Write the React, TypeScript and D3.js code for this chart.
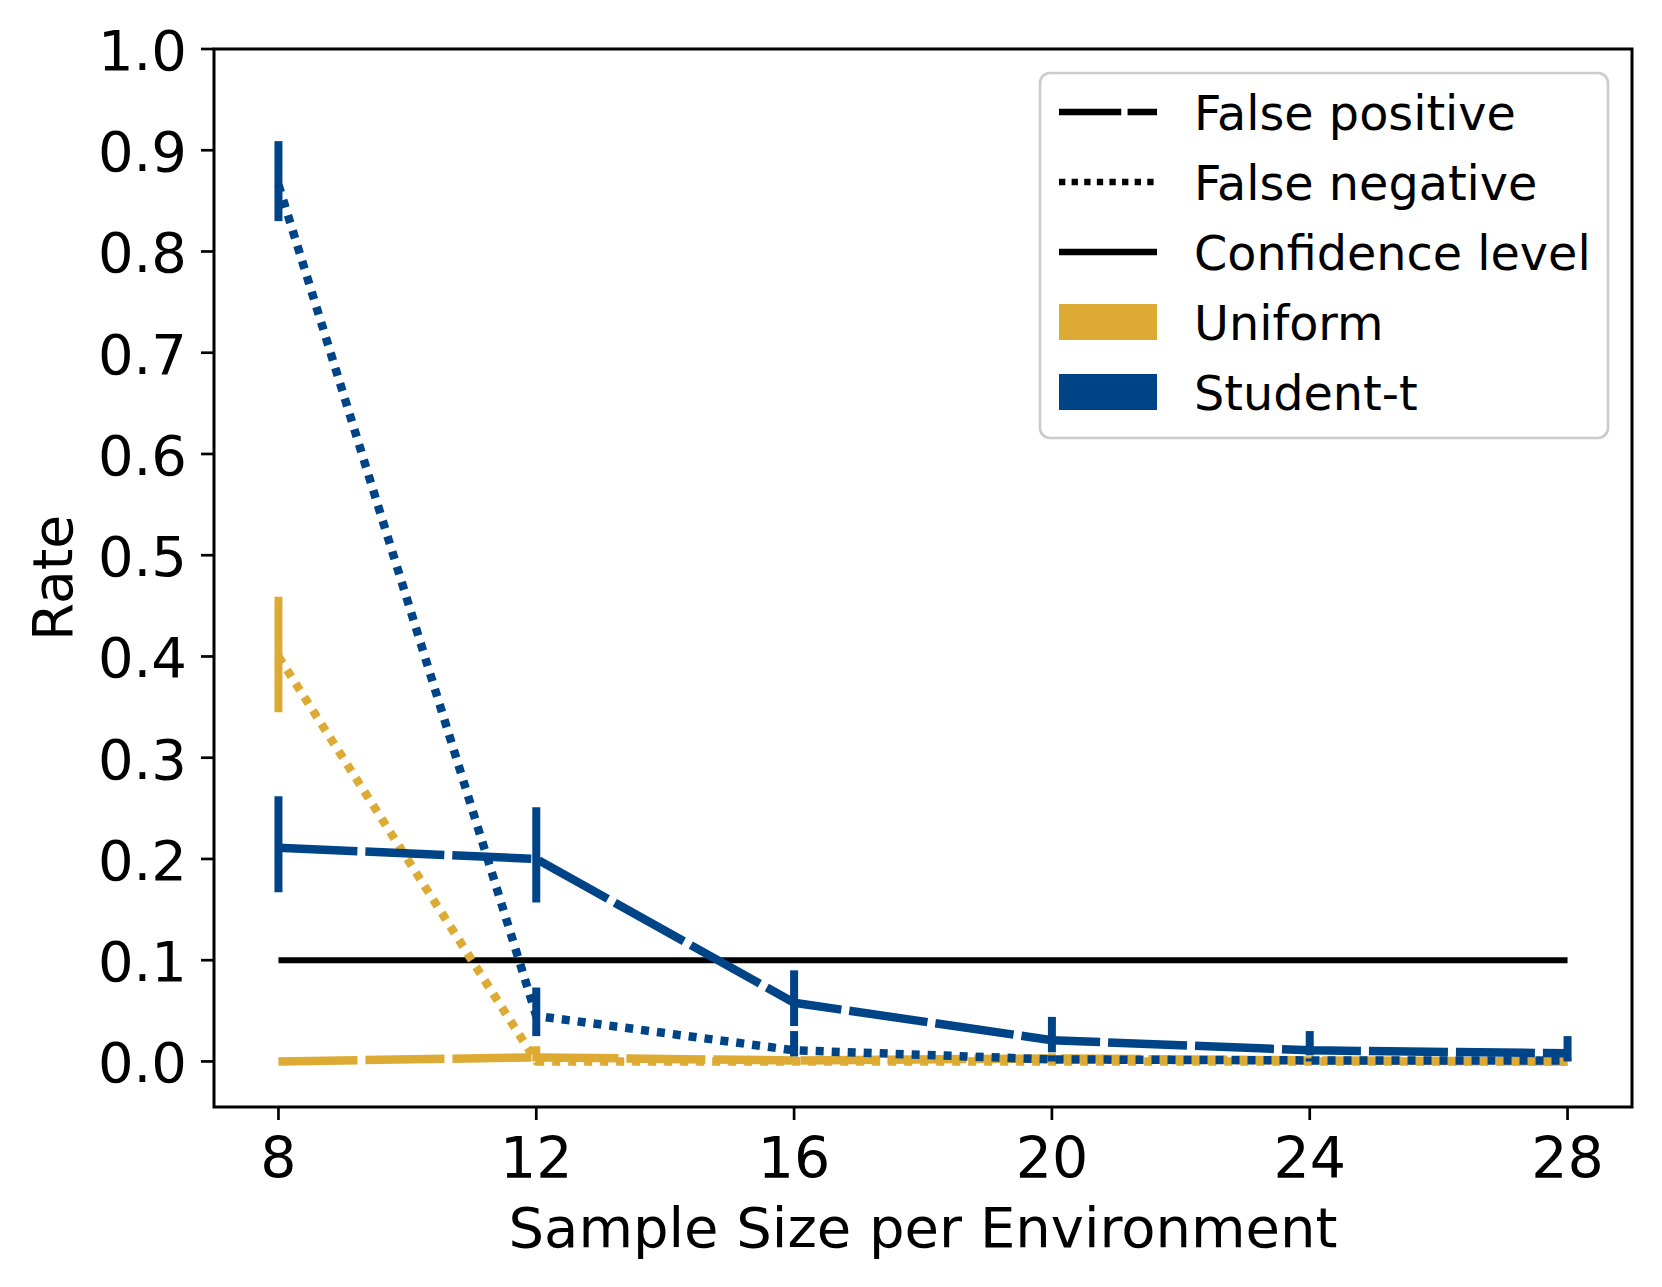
import * as d3 from 'd3';

// sample size per environment
const sampleSizes = [8, 12, 16, 20, 24, 28];

// Uniform
const uniformFP = [0.0, 0.004, 0.001, 0.003, 0.001, 0.0];
const uniformFPLow = [0.0, 0.0, 0.0, 0.0, 0.0, 0.0];
const uniformFPHigh = [0.0, 0.015, 0.005, 0.008, 0.004, 0.002];
const uniformFN = [0.4, 0.0, 0.0, 0.0, 0.0, 0.0];
const uniformFNLow = [0.345, 0.0, 0.0, 0.0, 0.0, 0.0];
const uniformFNHigh = [0.459, 0.0, 0.0, 0.0, 0.0, 0.0];

// Student-t
const studentFP = [0.211, 0.2, 0.058, 0.021, 0.011, 0.008];
const studentFPLow = [0.167, 0.157, 0.035, 0.009, 0.006, 0.002];
const studentFPHigh = [0.262, 0.251, 0.09, 0.044, 0.03, 0.025];
const studentFN = [0.866, 0.045, 0.011, 0.002, 0.001, 0.001];
const studentFNLow = [0.83, 0.025, 0.005, 0.0, 0.0, 0.0];
const studentFNHigh = [0.909, 0.073, 0.03, 0.006, 0.003, 0.003];

const confidenceLevel = 0.1;

const xTicks = [8, 12, 16, 20, 24, 28];
const yTicks = [0, 0.1, 0.2, 0.3, 0.4, 0.5, 0.6, 0.7, 0.8, 0.9, 1.0];

const UNIFORM = '#DDAA33';
const STUDENT = '#004488';

const width = 1662;
const height = 1287;
const margin = { left: 214, right: 30, top: 49, bottom: 180 };

const FONT = 'DejaVu Sans';
const LW = 8.5;
const FP_DASH = [79, 8];
const FN_DASH = [8, 8];

export default function App() {
  const x = d3.scaleLinear().domain([7, 29]).range([margin.left, width - margin.right]);
  const y = d3.scaleLinear().domain([-0.045, 1.0]).range([height - margin.bottom, margin.top]);

  const line = d3
    .line<number>()
    .x((_, i) => x(sampleSizes[i]))
    .y((d) => y(d));

  const series = [
    { key: 'ufp', color: UNIFORM, vals: uniformFP, lo: uniformFPLow, hi: uniformFPHigh, dash: FP_DASH },
    { key: 'ufn', color: UNIFORM, vals: uniformFN, lo: uniformFNLow, hi: uniformFNHigh, dash: FN_DASH },
    { key: 'sfp', color: STUDENT, vals: studentFP, lo: studentFPLow, hi: studentFPHigh, dash: FP_DASH },
    { key: 'sfn', color: STUDENT, vals: studentFN, lo: studentFNLow, hi: studentFNHigh, dash: FN_DASH },
  ];

  const x0 = x.range()[0];
  const x1 = x.range()[1];
  const yTop = y.range()[1];
  const yBot = y.range()[0];

  // legend
  const lgLeft = 1040;
  const lgTop = 73;
  const lgW = 568;
  const lgH = 365;
  const rowY = (i: number) => 112 + i * 70;
  const hx0 = 1059;
  const hx1 = 1157;
  const lgLW = 6.7;
  const scaleDash = (d: number[]) => d.map((v) => (v * lgLW) / LW).join(' ');

  const legendItems = [
    { label: 'False positive', kind: 'line', dash: scaleDash(FP_DASH) },
    { label: 'False negative', kind: 'line', dash: scaleDash(FN_DASH) },
    { label: 'Confidence level', kind: 'line', dash: 'none' },
    { label: 'Uniform', kind: 'patch', color: UNIFORM },
    { label: 'Student-t', kind: 'patch', color: STUDENT },
  ];

  return (
    <div>
      <style>{`body{margin:0}`}</style>
      <svg width={width} height={height} style={{ display: 'block', background: '#fff' }} fontFamily={FONT}>
        {/* confidence level */}
        <line
          x1={x(sampleSizes[0])}
          x2={x(sampleSizes[sampleSizes.length - 1])}
          y1={y(confidenceLevel)}
          y2={y(confidenceLevel)}
          stroke="#000"
          strokeWidth={6}
        />

        {series.map((s) => (
          <g key={s.key}>
            <path
              d={line(s.vals) || ''}
              fill="none"
              stroke={s.color}
              strokeWidth={LW}
              strokeDasharray={s.dash.join(' ')}
              strokeLinejoin="round"
            />
            {sampleSizes.map((n, i) => (
              <line
                key={n}
                x1={x(n)}
                x2={x(n)}
                y1={y(s.lo[i])}
                y2={y(s.hi[i])}
                stroke={s.color}
                strokeWidth={8}
              />
            ))}
          </g>
        ))}

        {/* spines */}
        <rect x={x0} y={yTop} width={x1 - x0} height={yBot - yTop} fill="none" stroke="#000" strokeWidth={3} />

        {/* y axis */}
        {yTicks.map((t) => (
          <g key={t}>
            <line x1={x0 - 13} x2={x0} y1={y(t)} y2={y(t)} stroke="#000" strokeWidth={2.7} />
            <text x={x0 - 27} y={y(t) + 21} textAnchor="end" fontSize={56}>
              {d3.format('.1f')(t)}
            </text>
          </g>
        ))}

        {/* x axis */}
        {xTicks.map((t) => (
          <g key={t}>
            <line x1={x(t)} x2={x(t)} y1={yBot} y2={yBot + 13} stroke="#000" strokeWidth={2.7} />
            <text x={x(t)} y={yBot + 71} textAnchor="middle" fontSize={57}>
              {t}
            </text>
          </g>
        ))}

        <text x={(x0 + x1) / 2} y={1247} textAnchor="middle" fontSize={56}>
          Sample Size per Environment
        </text>
        <text transform={`translate(72,${(yTop + yBot) / 2}) rotate(-90)`} textAnchor="middle" fontSize={55}>
          Rate
        </text>

        {/* legend */}
        <rect
          x={lgLeft}
          y={lgTop}
          width={lgW}
          height={lgH}
          rx={10}
          ry={10}
          fill="#fff"
          fillOpacity={0.8}
          stroke="#cccccc"
          strokeWidth={2.7}
        />
        {legendItems.map((it, i) => (
          <g key={it.label}>
            {it.kind === 'line' ? (
              <line
                x1={hx0}
                x2={hx1}
                y1={rowY(i)}
                y2={rowY(i)}
                stroke="#000"
                strokeWidth={lgLW}
                strokeDasharray={it.dash}
              />
            ) : (
              <rect x={hx0} y={rowY(i) - 18} width={hx1 - hx0} height={36} fill={it.color} />
            )}
            <text x={1194} y={rowY(i) + 17.5} fontSize={47.7}>
              {it.label}
            </text>
          </g>
        ))}
      </svg>
    </div>
  );
}
